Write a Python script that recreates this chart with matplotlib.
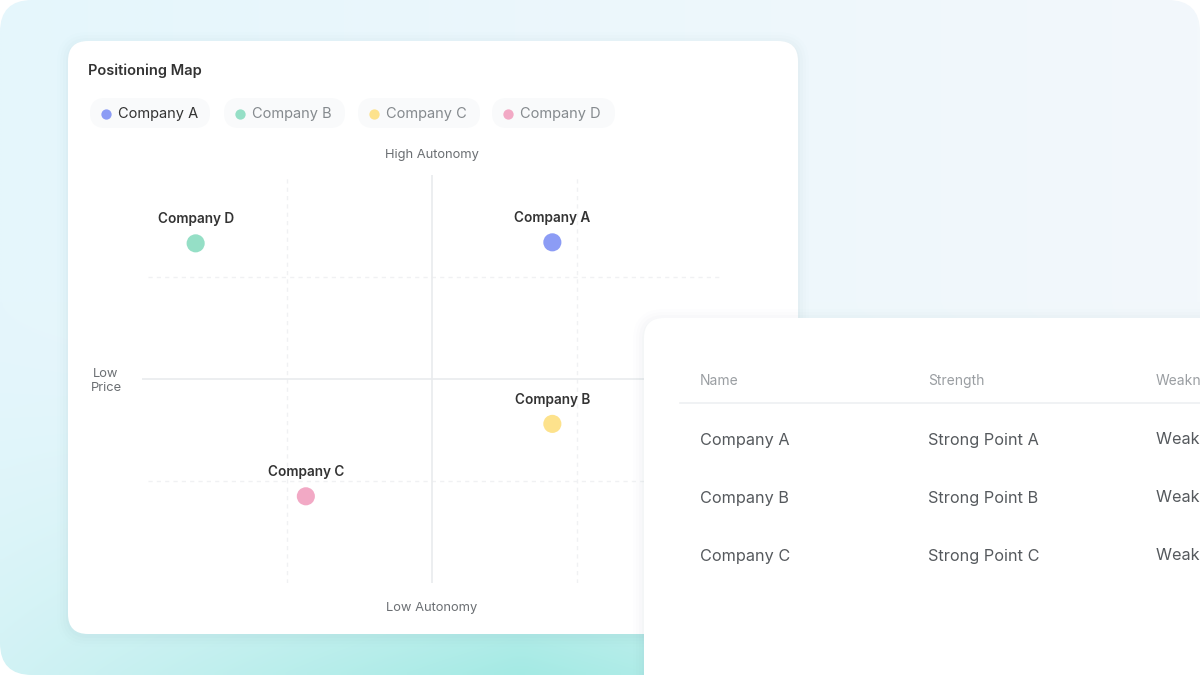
import numpy as np
import matplotlib.pyplot as plt
from matplotlib.patches import FancyBboxPatch
from matplotlib.colors import to_rgb

plt.rcParams["font.family"] = ["Inter", "DejaVu Sans"]

# chart data
companies = ["Company A", "Company B", "Company C", "Company D"]
legend_colors = ["#8c9cf5", "#95dfc6", "#fde28c", "#f2a9c5"]
# point positions (autonomy on y, price on x), in quadrant units
point_labels = ["Company A", "Company B", "Company C", "Company D"]
point_x = [0.83, 0.83, -0.87, -1.63]
point_y = [1.34, -0.44, -1.15, 1.33]
point_colors = ["#8c9cf5", "#fde28c", "#f2a9c5", "#95dfc6"]

# table data
table_headers = ["Name", "Strength", "Weakness"]
table_names = ["Company A", "Company B", "Company C"]
table_strengths = ["Strong Point A", "Strong Point B", "Strong Point C"]
table_weaknesses = ["Weakness A", "Weakness B", "Weakness C"]

W, H = 1200, 675
fig = plt.figure(figsize=(12, 6.75), dpi=100)
fig.patch.set_facecolor("white")


def px_axes(zorder):
    ax = fig.add_axes([0, 0, 1, 1], zorder=zorder)
    ax.set_xlim(0, W)
    ax.set_ylim(H, 0)
    ax.axis("off")
    ax.patch.set_alpha(0)
    return ax


def card(ax, x, y, w, h, r, z=1):
    for i, a in enumerate([0.018, 0.014, 0.01, 0.007]):
        g = 2 + 3 * i
        ax.add_patch(FancyBboxPatch((x - g, y - g + 2), w + 2 * g, h + 2 * g,
                                    boxstyle=f"round,pad=0,rounding_size={r + g}",
                                    fc="#5a7a90", ec="none", alpha=a, zorder=z))
    p = FancyBboxPatch((x, y), w, h, boxstyle=f"round,pad=0,rounding_size={r}",
                       fc="white", ec="none", zorder=z + 0.1)
    ax.add_patch(p)
    return p


# --- background layer ---
bg = px_axes(0)
frame = FancyBboxPatch((0, 0), W, H, boxstyle="round,pad=0,rounding_size=32",
                       fc="none", ec="none")
bg.add_patch(frame)
xs = np.linspace(0, 1, 240)
ys = np.linspace(0, 1, 135)
X, Y = np.meshgrid(xs, ys)
c_left = np.array(to_rgb("#e5f6fc"))
c_right = np.array(to_rgb("#f3f8fc"))
c_teal = np.array(to_rgb("#a4eae4"))
base = c_left[None, None, :] * (1 - X[..., None]) + c_right[None, None, :] * X[..., None]
w = np.clip((Y - 0.45) / 0.55, 0, 1) ** 1.6 * np.clip(0.3 + X * 1.6, 0, 1) * np.clip(1.6 - X * 1.4, 0, 1)
img = base * (1 - w[..., None]) + c_teal[None, None, :] * w[..., None]
im = bg.imshow(img, extent=(0, W, H, 0), aspect="auto", zorder=0, interpolation="bilinear")
im.set_clip_path(frame)

card(bg, 68, 41, 730, 593, 20)

bg.text(88, 71, "Positioning Map", fontsize=10.5, fontweight="semibold",
        color="#333333", va="center", ha="left")

pill_x = [90, 224, 358, 492]
pill_w = [120, 121, 122, 123]
for i, (name, col) in enumerate(zip(companies, legend_colors)):
    bg.add_patch(FancyBboxPatch((pill_x[i], 98), pill_w[i], 30,
                                boxstyle="round,pad=0,rounding_size=15",
                                fc="#f9fafb", ec="none", zorder=2))
    bg.scatter([pill_x[i] + 16], [113.5], s=55, color=col, zorder=3, linewidths=0)
    bg.text(pill_x[i] + 28, 114, name, fontsize=10.5, va="center", ha="left",
            color="#333333" if i == 0 else "#858a8e", zorder=3)

bg.text(432, 155, "High Autonomy", fontsize=9.3, color="#6b6f73", ha="center", va="center")
bg.text(432, 608, "Low Autonomy", fontsize=9.3, color="#6b6f73", ha="center", va="center")
bg.text(106, 381, "Low\nPrice", fontsize=9.3, color="#6b6f73", ha="center", va="center",
        linespacing=1.15)

# --- positioning map ---
ax = fig.add_axes([142 / W, 1 - 583 / H, 580 / W, 408 / H], zorder=1)
ax.patch.set_alpha(0)
ax.set_xlim(-2, 2)
ax.set_ylim(-2, 2)
ax.axis("off")
for v in (-1, 1):
    ax.plot([v, v], [-2, 2], color="#f0f1f3", lw=1, ls=(0, (3, 3)), zorder=1)
    ax.plot([-1.96, 1.98], [v, v], color="#f0f1f3", lw=1, ls=(0, (3, 3)), zorder=1)
ax.plot([0, 0], [-2, 2], color="#e9ebed", lw=1.2, zorder=1)
ax.plot([-2, 2], [0, 0], color="#e9ebed", lw=1.2, zorder=1)

ax.scatter(point_x, point_y, s=300, color="white", alpha=0.7, linewidths=0, zorder=2)
ax.scatter(point_x, point_y, s=170, c=point_colors, linewidths=0, zorder=3)
for lab, x, y in zip(point_labels, point_x, point_y):
    ax.annotate(lab, (x, y), xytext=(0, 12.5), textcoords="offset points",
                ha="center", va="bottom", fontsize=9.8, fontweight="semibold",
                color="#333333", zorder=4)

# --- table card overlay ---
top = px_axes(2)
card(top, 644, 318, 620, 420, 20, z=1)
head_x = [700, 928, 1156]
for hx, htxt in zip(head_x, table_headers):
    top.text(hx, 381, htxt, fontsize=10, color="#9a9ea2", ha="left", va="center", zorder=3)
top.plot([680, 1200], [403, 403], color="#eef0f2", lw=1.2, zorder=3)
row_y = [440, 498, 556]
for ry, n, s, wk in zip(row_y, table_names, table_strengths, table_weaknesses):
    for hx, val in zip(head_x, (n, s, wk)):
        top.text(hx, ry, val, fontsize=11.7, color="#55595d", ha="left", va="center", zorder=3)

fig.savefig("out.png", dpi=100, facecolor="white")
